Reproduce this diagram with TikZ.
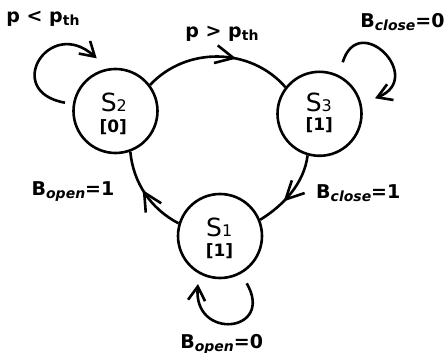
\documentclass[tikz,border=0pt]{standalone}
\usepackage{fontspec}
\setmainfont{DejaVu Sans}[ItalicFont={DejaVu Sans Oblique},BoldFont={DejaVu Sans Bold},BoldItalicFont={DejaVu Sans Bold Oblique}]
\usetikzlibrary{arrows.meta,decorations.markings}
\tikzset{
 state/.style={circle,draw,line width=2.6pt,minimum size=84pt,inner sep=0pt},
 edge/.style={line width=2.6pt},
 midarrow/.style={postaction={decorate},decoration={markings,mark=at position #1 with {\arrow{Straight Barb[length=18pt,width=18pt]}}}},
 looparrow/.style={-{Straight Barb[length=14pt,width=17pt]}},
 lbl/.style={inner sep=0pt,anchor=base},
}
\newcommand\Sname[1]{{\fontsize{25}{25}\selectfont S}{\fontsize{16}{16}\selectfont #1}}
\newcommand\Sval[1]{{\bfseries\fontsize{17}{17}\selectfont [#1]}}
\newcommand\Blbl[2]{{\bfseries\fontsize{19}{19}\selectfont B\raisebox{-3pt}{\fontsize{14}{14}\selectfont\itshape #1}=#2}}
\newcommand\plbl[1]{{\bfseries\fontsize{19}{19}\selectfont p #1 p\raisebox{-3pt}{\fontsize{14}{14}\selectfont th}}}
\begin{document}
\begin{tikzpicture}[x=1pt,y=1pt]
\useasboundingbox (0,0) rectangle (445,-353);
\node[state] (S2) at (115.5,-111) {};
\node[state] (S3) at (319.5,-113.8) {};
\node[state] (S1) at (220,-236) {};
\node[lbl] (S2n) at (113.8,-111.7) {\Sname{2}};
\node[lbl] (S2v) at (113.3,-132.3) {\Sval{0}};
\node[lbl] (S3n) at (318.8,-111.7) {\Sname{3}};
\node[lbl] (S3v) at (319.2,-131) {\Sval{1}};
\node[lbl] (S1n) at (219.2,-236.7) {\Sname{1}};
\node[lbl] (S1v) at (219.5,-256.7) {\Sval{1}};
\draw[edge,midarrow=0.62] (S2.37) to[out=47,in=131] (S3.142);
\draw[edge,midarrow=0.64] (S3.254) to[out=-97,in=31.6,looseness=0.89] (S1.22.5);
\draw[edge,midarrow=0.55] (S1.163.5) to[out=152.5,in=-84.6,looseness=0.93] (S2.290);
\draw[edge,looparrow] ([shift={(-50.5,8.3)}]S2.center) to[out=170,in=138,looseness=3] ([shift={(-18.8,52.7)}]S2.center);
\draw[edge,looparrow] ([shift={(23.2,51.5)}]S3.center) to[out=73,in=22,looseness=2.9] ([shift={(55.5,15.5)}]S3.center);
\draw[edge,looparrow] ([shift={(26.7,-47.3)}]S1.center) to[out=-60,in=-95,looseness=3] ([shift={(-22,-48)}]S1.center);
\node[lbl] (L2) at (43,-23) {\plbl{<}};
\node[lbl] (L23) at (222,-37.1) {\plbl{>}};
\node[lbl] (L3) at (402.5,-27.2) {\Blbl{close}{0}};
\node[lbl] (L12) at (73,-195.6) {\Blbl{open}{1}};
\node[lbl] (L31) at (358.3,-198.9) {\Blbl{close}{1}};
\node[lbl] (L1) at (221.7,-348) {\Blbl{open}{0}};
\end{tikzpicture}
\end{document}
